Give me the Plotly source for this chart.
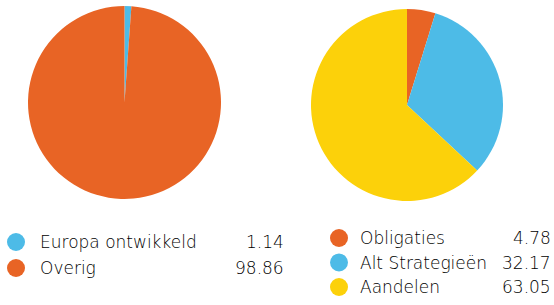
import plotly.graph_objects as go

W, H = 554, 305

left_labels = ["Europa ontwikkeld", "Overig"]
left_values = [1.14, 98.86]
left_colors = ["#4DBBE7", "#E86425"]

right_labels = ["Obligaties", "Alt Strategieën", "Aandelen"]
right_values = [4.78, 32.17, 63.05]
right_colors = ["#E86425", "#4DBBE7", "#FCD10A"]

FONT = "'DejaVu Sans', sans-serif"
TXT = "#000000"

def px(x):
    return x / W

def py(y):
    return 1 - y / H

fig = go.Figure()
fig.add_trace(go.Pie(
    labels=left_labels, values=left_values, sort=False, direction="clockwise",
    marker=dict(colors=left_colors, line=dict(width=0)), textinfo="none",
    hoverinfo="label+value", showlegend=False,
    domain=dict(x=[px(28), px(221)], y=[py(199), py(6)]),
))
fig.add_trace(go.Pie(
    labels=right_labels, values=right_values, sort=False, direction="clockwise",
    marker=dict(colors=right_colors, line=dict(width=0)), textinfo="none",
    hoverinfo="label+value", showlegend=False,
    domain=dict(x=[px(311), px(503)], y=[py(201), py(9)]),
))

shapes = []
annotations = []

def legend(labels, values, colors, mx, tx, vx, y0, dy):
    for i, (lab, val, col) in enumerate(zip(labels, values, colors)):
        y = y0 + i * dy
        r = 9
        shapes.append(dict(type="circle", xref="paper", yref="paper",
                           x0=px(mx - r), x1=px(mx + r), y0=py(y + r), y1=py(y - r),
                           fillcolor=col, line=dict(width=0)))
        annotations.append(dict(xref="paper", yref="paper", x=px(tx), y=py(y),
                                text=lab, showarrow=False, xanchor="left", yanchor="middle",
                                font=dict(family=FONT, size=17, color=TXT, weight=300)))
        annotations.append(dict(xref="paper", yref="paper", x=px(vx), y=py(y),
                                text=f"{val:.2f}", showarrow=False, xanchor="right", yanchor="middle",
                                font=dict(family=FONT, size=17, color=TXT, weight=300)))

legend(left_labels, left_values, left_colors, 16, 38, 286, 242, 26)
legend(right_labels, right_values, right_colors, 339, 358, 553, 238, 24.5)

fig.update_layout(
    width=W, height=H, margin=dict(l=0, r=0, t=0, b=0),
    paper_bgcolor="white", plot_bgcolor="white",
    shapes=shapes, annotations=annotations,
)
fig.write_html("out.html", config={"displayModeBar": False},
               post_script="document.body.style.margin='0';document.body.style.padding='0';document.documentElement.style.margin='0';")
